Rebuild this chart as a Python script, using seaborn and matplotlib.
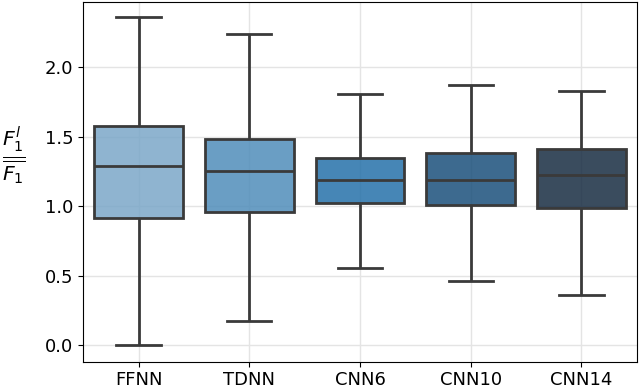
import matplotlib
matplotlib.use("Agg")
import matplotlib.pyplot as plt
import pandas as pd
import seaborn as sns

# five-number summaries (low whisker, Q1, median, Q3, high whisker)
models = ["FFNN", "TDNN", "CNN6", "CNN10", "CNN14"]
ffnn = [0.00, 0.915, 1.29, 1.575, 2.36]
tdnn = [0.175, 0.96, 1.255, 1.485, 2.24]
cnn6 = [0.555, 1.02, 1.19, 1.345, 1.805]
cnn10 = [0.46, 1.01, 1.185, 1.385, 1.875]
cnn14 = [0.36, 0.99, 1.225, 1.41, 1.83]
box_colors = ["#7ba7c8", "#508dba", "#2571a9", "#1b507b", "#172c42"]

rows = []
for name, vals in zip(models, [ffnn, tdnn, cnn6, cnn10, cnn14]):
    for v in vals:
        rows.append({"model": name, "ratio": v})
df = pd.DataFrame(rows)

fig, ax = plt.subplots(figsize=(6.4, 3.91), dpi=100)

sns.boxplot(
    data=df,
    x="model",
    y="ratio",
    hue="model",
    palette=box_colors,
    saturation=1,
    legend=False,
    whis=(0, 100),
    width=0.8,
    linewidth=2,
    linecolor="#3a3a3a",
    ax=ax,
)

# translucent fill so the grid shows through, edges stay solid
for patch in ax.patches:
    r, g, b, _ = patch.get_facecolor()
    patch.set_facecolor((r, g, b, 0.85))

ax.grid(True, color="#e4e4e4", linewidth=1.0)
ax.set_axisbelow(True)

ax.set_ylim(-0.12, 2.47)
ax.set_yticks([0.0, 0.5, 1.0, 1.5, 2.0])
ax.set_xlabel("")
ax.set_ylabel(r"$\frac{F_1^l}{\overline{F_1}}$", rotation=0, fontsize=21,
              ha="center", va="center")
ax.yaxis.set_label_coords(-0.125, 0.57)
ax.tick_params(labelsize=13)

fig.subplots_adjust(left=0.13, right=0.995, top=0.995, bottom=0.075)
fig.savefig("out.png", dpi=100)
